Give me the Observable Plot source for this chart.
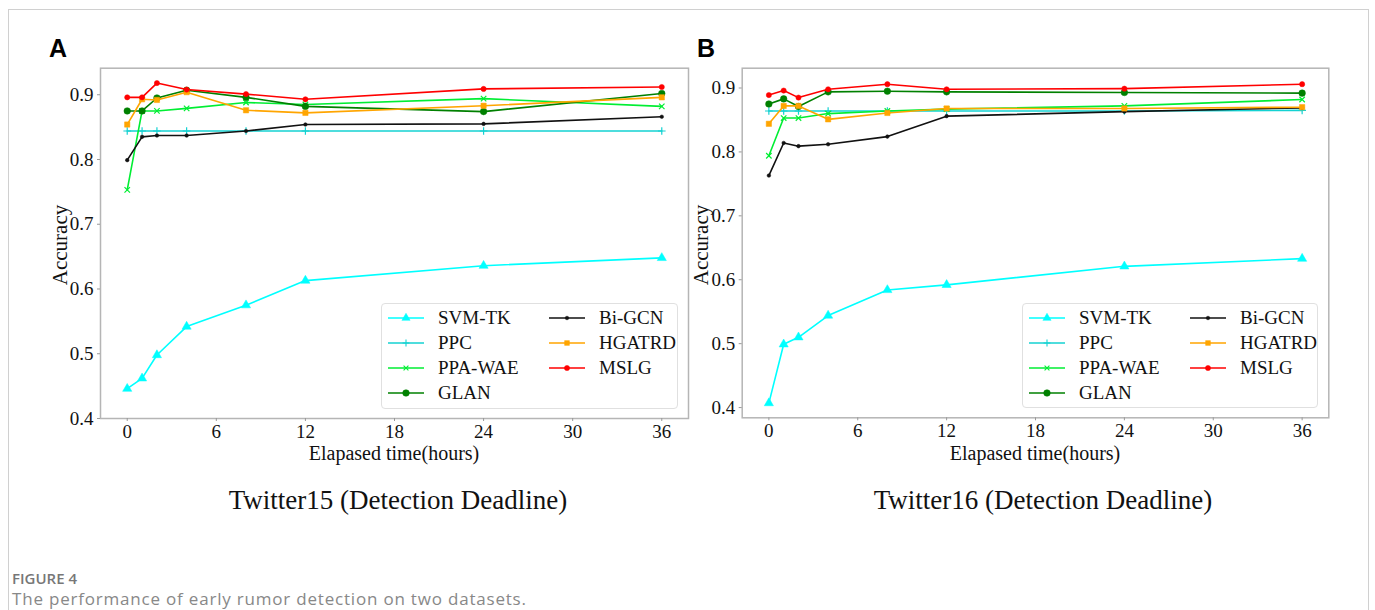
<!DOCTYPE html>
<html>
<head>
<meta charset="utf-8">
<script src="https://cdn.jsdelivr.net/npm/d3@7"></script>
<script src="https://cdn.jsdelivr.net/npm/@observablehq/plot@0.6"></script>
<style>
  html, body { margin: 0; padding: 0; background: #fff; }
  body { width: 1375px; height: 610px; position: relative; overflow: hidden; }
  .border { position: absolute; left: 8px; top: 9px; width: 1361px; height: 640px; border: 1px solid #d0d0d0; box-sizing: border-box; }
  .abs { position: absolute; }
  .serif { font-family: "Liberation Serif", "Times New Roman", serif; color: #111; }
  .letter { font-family: "Liberation Sans", Arial, sans-serif; font-weight: bold; font-size: 25px; color: #000; }
  .legend { position: absolute; border: 1px solid #e0e0e0; border-radius: 4px; background: #fff; box-sizing: border-box; }
  .item { position: absolute; display: flex; align-items: center; font-family: "Liberation Serif", serif; font-size: 19px; color: #111; white-space: nowrap; }
  .item svg { margin-right: 14px; }
  .caphead { font-family: "Open Sans", "Noto Sans", sans-serif; font-weight: 600; font-size: 15px; line-height: 18px; color: #777; }
  .captext { font-family: "Open Sans", "Noto Sans", sans-serif; font-size: 17px; line-height: 18px; letter-spacing: 0.8px; color: #888; white-space: nowrap; }
</style>
</head>
<body>
<div class="border"></div>
<script>
// ---- data ----
const hours = [0, 1, 2, 4, 8, 12, 24, 36];
const models = ["SVM-TK", "PPC", "PPA-WAE", "GLAN", "Bi-GCN", "HGATRD", "MSLG"];
const colors = ["#00ffff", "#14d2d2", "#00ee33", "#008000", "#111111", "#ffa500", "#ff0000"];
const symbols = ["triangle", "plus", "times", "circle", "circle", "square", "circle"];
const symbolSizes = [3.4, 2.6, 2.6, 3.3, 1.8, 3, 2.6];
const xTicks = [0, 6, 12, 18, 24, 30, 36];
const yTicks = [0.4, 0.5, 0.6, 0.7, 0.8, 0.9];

// Twitter15
const t15_svmtk = [0.446, 0.462, 0.498, 0.542, 0.575, 0.613, 0.636, 0.648];
const t15_ppc = [0.844, 0.844, 0.844, 0.844, 0.844, 0.844, 0.844, 0.844];
const t15_ppawae = [0.753, 0.875, 0.875, 0.879, 0.888, 0.885, 0.894, 0.882];
const t15_glan = [0.875, 0.875, 0.895, 0.907, 0.896, 0.882, 0.874, 0.902];
const t15_bigcn = [0.799, 0.835, 0.837, 0.837, 0.844, 0.854, 0.855, 0.866];
const t15_hgatrd = [0.854, 0.893, 0.892, 0.904, 0.876, 0.872, 0.883, 0.896];
const t15_mslg = [0.896, 0.896, 0.918, 0.908, 0.901, 0.893, 0.909, 0.912];

// Twitter16
const t16_svmtk = [0.407, 0.499, 0.510, 0.544, 0.584, 0.592, 0.621, 0.633];
const t16_ppc = [0.864, 0.864, 0.864, 0.864, 0.864, 0.864, 0.864, 0.865];
const t16_ppawae = [0.794, 0.853, 0.853, 0.860, 0.864, 0.867, 0.872, 0.882];
const t16_glan = [0.875, 0.883, 0.871, 0.894, 0.895, 0.894, 0.893, 0.892];
const t16_bigcn = [0.763, 0.814, 0.809, 0.812, 0.824, 0.856, 0.863, 0.869];
const t16_hgatrd = [0.844, 0.872, 0.872, 0.851, 0.861, 0.868, 0.868, 0.870];
const t16_mslg = [0.889, 0.896, 0.885, 0.898, 0.906, 0.898, 0.899, 0.906];

const series15 = [t15_svmtk, t15_ppc, t15_ppawae, t15_glan, t15_bigcn, t15_hgatrd, t15_mslg];
const series16 = [t16_svmtk, t16_ppc, t16_ppawae, t16_glan, t16_bigcn, t16_hgatrd, t16_mslg];

function tidy(series) {
  const rows = [];
  series.forEach((vals, i) => vals.forEach((v, j) => rows.push({model: models[i], hour: hours[j], acc: v})));
  return rows;
}

const isOpen = i => symbols[i] === "plus" || symbols[i] === "times";

function panel(series, yDomain, m) {
  const rows = tidy(series);
  const marks = [
    Plot.frame({stroke: "#b5b5b5", strokeWidth: 1.5}),
    Plot.axisX({ticks: xTicks, tickSize: 3, stroke: "#999", label: null, tickFormat: () => ""}),
    Plot.axisX({ticks: xTicks, tickSize: 0, tickPadding: 6, label: null, fill: "#111"}),
    Plot.axisY({ticks: yTicks, tickSize: 3, stroke: "#999", label: null, tickFormat: () => ""}),
    Plot.axisY({ticks: yTicks, tickSize: 0, tickPadding: 7, label: null, fill: "#111", tickFormat: d3.format(".1f")})
  ];
  models.forEach((name, i) => {
    const data = rows.filter(d => d.model === name);
    marks.push(Plot.line(data, {x: "hour", y: "acc", stroke: colors[i], strokeWidth: 1.6}));
    marks.push(Plot.dot(data, {x: "hour", y: "acc", symbol: () => symbols[i], r: symbolSizes[i],
      fill: isOpen(i) ? "none" : colors[i],
      stroke: colors[i], strokeWidth: isOpen(i) ? 1.2 : 0.5}));
  });
  return Plot.plot({
    width: 680, height: 440,
    marginTop: m.top, marginLeft: m.left, marginRight: m.right, marginBottom: m.bottom,
    style: {fontFamily: "Liberation Serif, Times New Roman, serif", fontSize: "19px", background: "transparent", color: "#111"},
    x: {domain: [-1.8, 37.8], axis: null, label: null},
    y: {domain: yDomain, axis: null, label: null},
    symbol: {type: "identity"},
    marks
  });
}

function legendSwatch(i) {
  const type = {triangle: d3.symbolTriangle, plus: d3.symbolPlus, times: d3.symbolTimes, circle: d3.symbolCircle, square: d3.symbolSquare}[symbols[i]];
  const sym = d3.symbol().type(type).size(Math.PI * symbolSizes[i] * symbolSizes[i] * (symbols[i] === "circle" ? 1 : 0.8))();
  return `<svg width="36" height="14"><line x1="0" y1="7" x2="36" y2="7" stroke="${colors[i]}" stroke-width="1.6"/>` +
    `<path d="${sym}" transform="translate(18,7)" fill="${isOpen(i) ? "none" : colors[i]}" stroke="${colors[i]}" stroke-width="${isOpen(i) ? 1.1 : 0.5}"/></svg>`;
}

function legend(box, col1x, col2x) {
  const div = document.createElement("div");
  div.className = "legend";
  Object.assign(div.style, {left: box.x + "px", top: box.y + "px", width: box.w + "px", height: box.h + "px"});
  const rowYs = [14, 39, 64, 89];
  models.forEach((name, i) => {
    const col = i < 4 ? 0 : 1;
    const row = i < 4 ? i : i - 4;
    const it = document.createElement("div");
    it.className = "item";
    it.style.left = (col === 0 ? col1x : col2x) + "px";
    it.style.top = (rowYs[row] - 11) + "px";
    it.style.height = "22px";
    it.innerHTML = legendSwatch(i) + `<span>${name}</span>`;
    div.appendChild(it);
  });
  document.body.appendChild(div);
}

function place(node, left, top) {
  node.style.position = "absolute";
  node.style.left = left + "px";
  node.style.top = top + "px";
  document.body.appendChild(node);
}

function text(cls, str, left, top, extra) {
  const d = document.createElement("div");
  d.className = "abs " + cls;
  d.textContent = str;
  d.style.left = left + "px";
  d.style.top = top + "px";
  if (extra) Object.assign(d.style, extra);
  document.body.appendChild(d);
  return d;
}

// Panel A
place(panel(series15, [0.4, 0.941], {top: 27.7, left: 60, right: 32, bottom: 62}), 40, 40);
// Panel B
place(panel(series16, [0.384, 0.931], {top: 27.7, left: 51.7, right: 41.7, bottom: 62.7}), 690, 40);

legend({x: 381, y: 303, w: 297, h: 106}, 6, 167);
legend({x: 1022, y: 303, w: 296, h: 105}, 6, 167);

text("letter", "A", 49, 34);
text("letter", "B", 697, 34);

// axis titles
text("serif", "Accuracy", 60, 245, {fontSize: "21px", transform: "translate(-50%,-50%) rotate(-90deg)", whiteSpace: "nowrap"});
text("serif", "Accuracy", 701, 245, {fontSize: "21px", transform: "translate(-50%,-50%) rotate(-90deg)", whiteSpace: "nowrap"});
text("serif", "Elapased time(hours)", 394, 453, {fontSize: "20px", lineHeight: "20px", transform: "translate(-50%,-50%)", whiteSpace: "nowrap"});
text("serif", "Elapased time(hours)", 1035, 453, {fontSize: "20px", lineHeight: "20px", transform: "translate(-50%,-50%)", whiteSpace: "nowrap"});

// panel titles
text("serif", "Twitter15 (Detection Deadline)", 398, 500, {fontSize: "27px", transform: "translate(-50%,-50%)", whiteSpace: "nowrap"});
text("serif", "Twitter16 (Detection Deadline)", 1043, 500, {fontSize: "27px", transform: "translate(-50%,-50%)", whiteSpace: "nowrap"});

// caption
text("caphead", "FIGURE 4", 12, 569);
text("captext", "The performance of early rumor detection on two datasets.", 12, 590);
</script>
</body>
</html>
